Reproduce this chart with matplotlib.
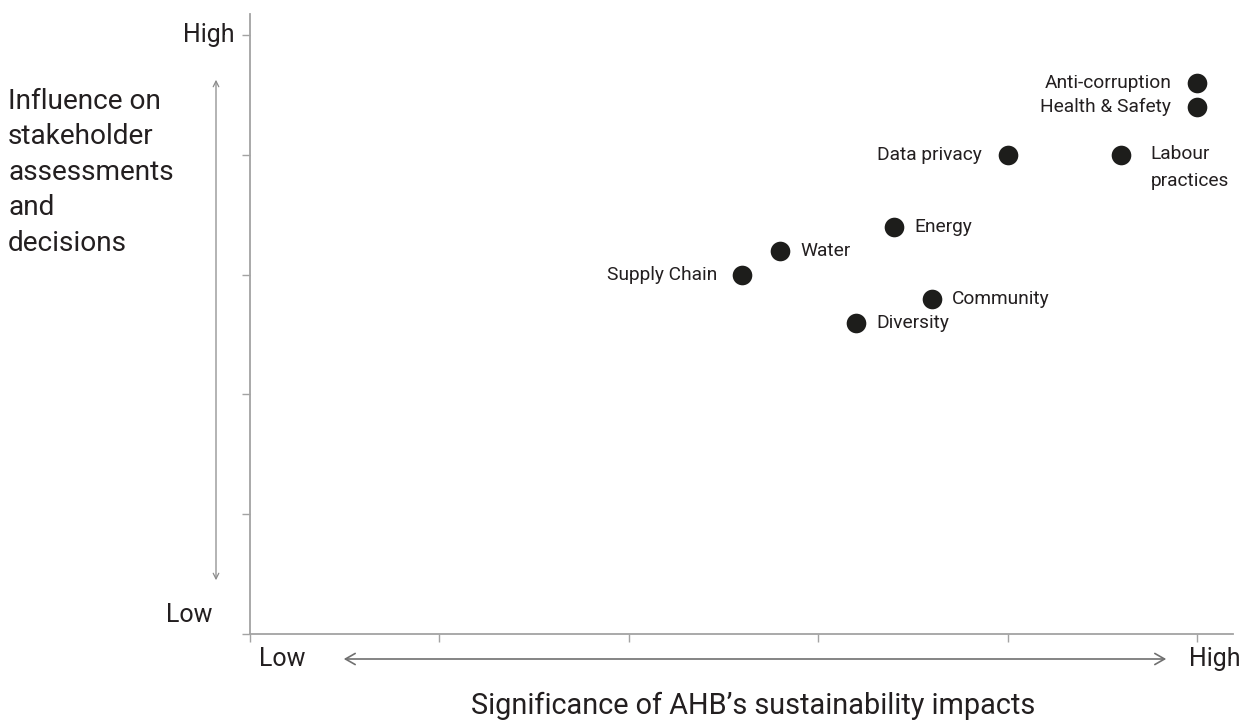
import matplotlib
matplotlib.use("Agg")
import matplotlib.pyplot as plt

plt.rcParams['font.family'] = ['Roboto', 'DejaVu Sans']

# Materiality topics: significance of impact (x) vs stakeholder influence (y)
topics = ["Anti-corruption", "Health & Safety", "Data privacy", "Labour\npractices",
          "Energy", "Water", "Supply Chain", "Community", "Diversity"]
impact = [5.0, 5.0, 4.0, 4.6, 3.4, 2.8, 2.6, 3.6, 3.2]
influence = [4.6, 4.4, 4.0, 4.0, 3.4, 3.2, 3.0, 2.8, 2.6]
label_side = ["left", "left", "left", "right", "right", "right", "left", "right", "right"]

scale_ticks = [0, 1, 2, 3, 4, 5]

TEXT = "#231f20"
AXIS = "#a3a3a3"
LABEL_SIZE = 13.8
END_SIZE = 18
TITLE_SIZE = 20.8

fig = plt.figure(figsize=(12.48, 7.2), dpi=100)
ax = fig.add_axes([0.2003, 0.1194, 0.7877, 0.861])
ax.set_xlim(0, 5.19)
ax.set_ylim(0, 5.175)

for side in ("top", "right"):
    ax.spines[side].set_visible(False)
for side in ("left", "bottom"):
    ax.spines[side].set_color(AXIS)
    ax.spines[side].set_linewidth(1.3)

ax.set_xticks(scale_ticks)
ax.set_yticks(scale_ticks)
ax.set_xticklabels([])
ax.set_yticklabels([])
ax.tick_params(axis="both", direction="out", length=6, width=1, color=AXIS)

ax.scatter(impact, influence, s=200, color="#1d1d1b", zorder=3, linewidths=0)

for name, x, y, side in zip(topics, impact, influence, label_side):
    if side == "left":
        ax.annotate(name, (x, y), xytext=(-18.5, 0), textcoords="offset points",
                    ha="right", va="center", fontsize=LABEL_SIZE, color=TEXT)
    elif "\n" in name:
        ax.annotate(name, (x, y), xytext=(21, 7), textcoords="offset points",
                    ha="left", va="top", fontsize=LABEL_SIZE, color=TEXT, linespacing=1.65)
    else:
        ax.annotate(name, (x, y), xytext=(14.5, 0), textcoords="offset points",
                    ha="left", va="center", fontsize=LABEL_SIZE, color=TEXT)

# Scale end labels
ax.text(-0.08, 5.0, "High", transform=ax.transData, ha="right", va="center",
        fontsize=END_SIZE, color=TEXT)
ax.text(-0.2, 0.16, "Low", transform=ax.transData, ha="right", va="center",
        fontsize=END_SIZE, color=TEXT)
fig.text(282 / 1248, 1 - 659 / 720, "Low", ha="center", va="center",
         fontsize=END_SIZE, color=TEXT)
fig.text(1215 / 1248, 1 - 659 / 720, "High", ha="center", va="center",
         fontsize=END_SIZE, color=TEXT)

# Direction arrows
fig.add_artist(matplotlib.patches.FancyArrowPatch(
    (216 / 1248, 1 - 583 / 720), (216 / 1248, 1 - 77 / 720),
    transform=fig.transFigure, arrowstyle="<->,head_length=4,head_width=2",
    color="#8a8a8a", lw=0.9))
fig.add_artist(matplotlib.patches.FancyArrowPatch(
    (341 / 1248, 1 - 659 / 720), (1169 / 1248, 1 - 659 / 720),
    transform=fig.transFigure, arrowstyle="<->,head_length=7,head_width=4",
    color="#707070", lw=1.2))

# Axis titles
fig.text(8 / 1248, 1 - 88 / 720,
         "Influence on\nstakeholder\nassessments\nand\ndecisions",
         ha="left", va="top", fontsize=TITLE_SIZE - 0.6, color=TEXT, linespacing=1.4)
fig.text(753 / 1248, 1 - 706 / 720, "Significance of AHB\u2019s sustainability impacts",
         ha="center", va="center", fontsize=TITLE_SIZE, color=TEXT)

fig.savefig("out.png", dpi=100)
